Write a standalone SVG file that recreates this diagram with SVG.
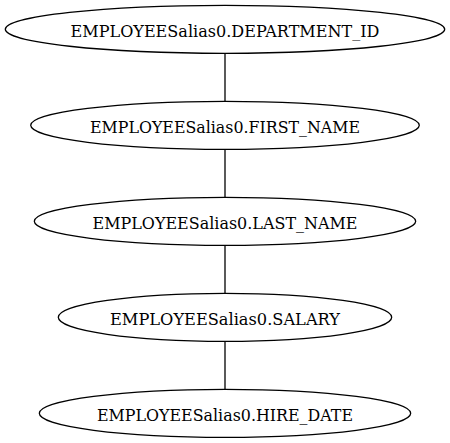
<svg xmlns="http://www.w3.org/2000/svg" width="450" height="443" viewBox="0 0 450 443">
<style>
.n ellipse{fill:none;stroke:#000;stroke-width:1.3}
.n text{font-family:'DejaVu Serif','Liberation Serif',serif;font-size:16.5px;text-anchor:middle;fill:#000}
#edges line{stroke:#000;stroke-width:1.3}
</style>
<rect width="450" height="443" fill="#fff"/>
<g id="edges">
<line x1="225" y1="53.3" x2="225" y2="101.3"/>
<line x1="225" y1="149.3" x2="225" y2="197.3"/>
<line x1="225" y1="245.3" x2="225" y2="293.3"/>
<line x1="225" y1="341.3" x2="225" y2="389.3"/>
</g>
<g id="dept" class="n"><ellipse cx="225" cy="29.3" rx="219.7" ry="24"/><text x="225" y="37.3" textLength="309" lengthAdjust="spacingAndGlyphs">EMPLOYEESalias0.DEPARTMENT_ID</text></g>
<g id="first" class="n"><ellipse cx="225" cy="125.3" rx="194.3" ry="24"/><text x="225" y="133.3" textLength="270" lengthAdjust="spacingAndGlyphs">EMPLOYEESalias0.FIRST_NAME</text></g>
<g id="last" class="n"><ellipse cx="225" cy="221.3" rx="190.7" ry="24"/><text x="225" y="229.3" textLength="265" lengthAdjust="spacingAndGlyphs">EMPLOYEESalias0.LAST_NAME</text></g>
<g id="salary" class="n"><ellipse cx="225" cy="317.3" rx="166.7" ry="24"/><text x="225" y="325.3" textLength="230" lengthAdjust="spacingAndGlyphs">EMPLOYEESalias0.SALARY</text></g>
<g id="hire" class="n"><ellipse cx="225" cy="413.3" rx="185.7" ry="24"/><text x="225" y="421.3" textLength="256" lengthAdjust="spacingAndGlyphs">EMPLOYEESalias0.HIRE_DATE</text></g>
</svg>
